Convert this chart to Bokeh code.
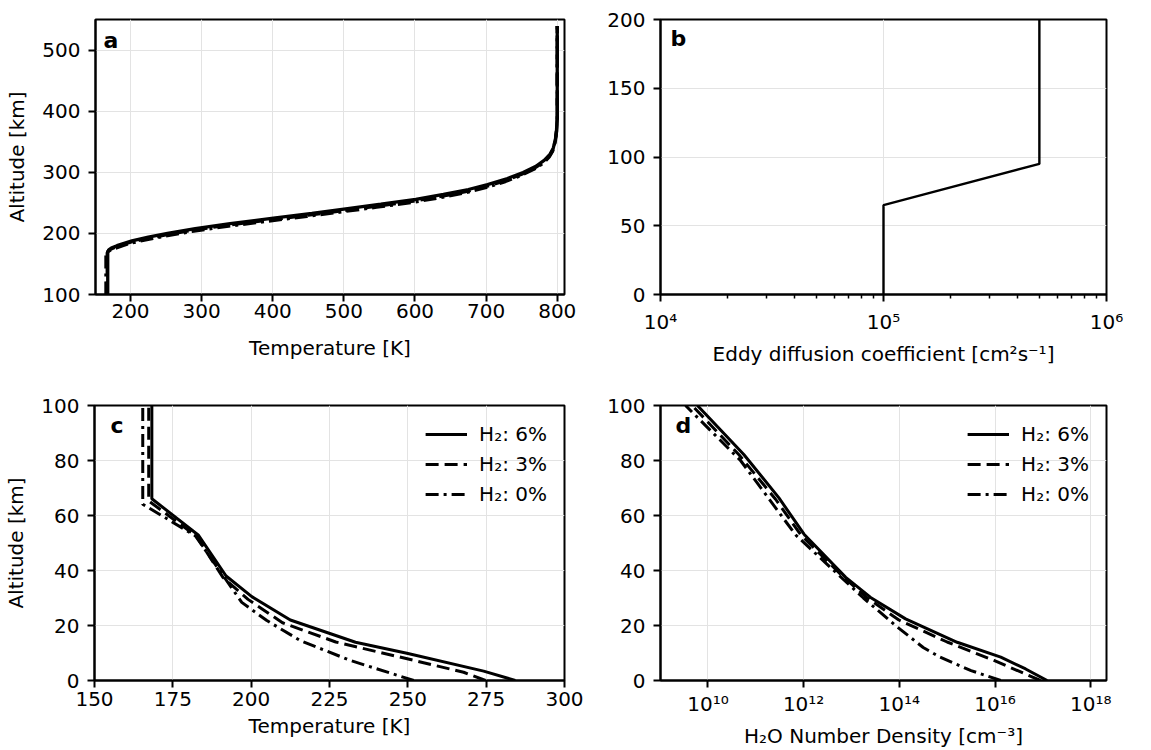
from bokeh.plotting import figure
from bokeh.layouts import column, row
from bokeh.models import Range1d, FixedTicker, Label, Legend, LegendItem, CustomJSTickFormatter
from bokeh.embed import file_html
from bokeh.resources import INLINE

# ---------------- data ----------------
# panel a: temperature profiles (altitude km, temperature K)
alt_a_6 = [100, 170, 173, 176, 180, 184, 188, 194, 200, 208, 216, 225, 233, 240, 248, 256, 264, 272, 280, 290, 300, 310, 320, 330, 340, 355, 370, 390, 420, 460, 500, 540]
temp_a_6 = [168, 168, 169.5, 173, 181, 191, 202, 225, 252, 291, 340, 401, 455, 500, 552, 601, 640, 675, 702, 730, 752, 770, 782, 790, 794.5, 797.5, 799, 800, 800, 800, 800, 800]
alt_a_3 = [100, 168, 171, 174, 178, 182, 186, 192, 198, 206, 214, 222, 230, 237, 245, 253, 261, 269, 277, 287, 297, 307, 317, 327, 337, 352, 368, 388, 420, 460, 500, 540]
temp_a_3 = [167.3, 167.3, 168.5, 172, 180, 190, 201, 224, 251, 290, 339, 394, 450, 496, 548, 598, 638, 673, 700, 728, 750, 768, 781, 789, 794, 797.5, 799, 800, 800, 800, 800, 800]
alt_a_0 = [100, 166, 169, 172, 176, 180, 184, 190, 196, 204, 212, 220, 228, 235, 243, 251, 259, 267, 275, 285, 295, 305, 315, 325, 335, 350, 366, 386, 420, 460, 500, 540]
temp_a_0 = [165.5, 165.5, 167, 170.5, 179, 189, 200, 223, 250, 289, 338, 392, 448, 494, 546, 597, 637, 672, 699, 727, 749, 767, 780, 788.5, 793.5, 797, 799, 800, 800, 800, 800, 800]

# panel b: eddy diffusion coefficient
alt_b = [0, 65, 95, 200]
kzz_b = [1e5, 1e5, 5e5, 5e5]

# panel c: lower-atmosphere temperature
alt_c_6 = [0, 3.4, 9.9, 13.9, 22, 30.5, 38, 52.8, 66.1, 100]
temp_c_6 = [284.3, 274.2, 249.7, 233.3, 212.5, 200.2, 192, 183.2, 168.3, 168.3]
alt_c_3 = [0, 3, 7.3, 14, 21, 29.5, 37.5, 52.5, 65.3, 100]
temp_c_3 = [274.8, 267.8, 252, 227, 210, 199, 191, 182.5, 167.3, 167.3]
alt_c_0 = [0, 7.3, 14.5, 21.8, 28.4, 40.5, 52.6, 64.1, 100]
temp_c_0 = [251.9, 231.6, 215.7, 205, 197, 189.6, 182.2, 165.4, 165.4]

# panel d: H2O number density
alt_d_6 = [0, 4.2, 8.5, 13.9, 22.4, 30.2, 37.5, 53.2, 66.5, 82.2, 100]
nh2o_d_6 = [1.23e17, 4.37e16, 1.32e16, 1.62e15, 1.35e14, 2.51e13, 7.59e12, 1.02e12, 3.02e11, 5.62e10, 6.03e9]
alt_d_3 = [0, 7.3, 14, 22, 30, 38, 53, 66, 82, 100]
nh2o_d_3 = [8.9e16, 9.5e15, 1.0e15, 9.8e13, 2.14e13, 6.46e12, 8.7e11, 2.57e11, 4.5e10, 4.68e9]
alt_d_0 = [0, 3.6, 8.5, 12, 20, 30, 40, 53, 66, 80, 100]
nh2o_d_0 = [1.32e16, 3.16e15, 7.08e14, 3.16e14, 8.3e13, 1.78e13, 4.27e12, 6.76e11, 1.9e11, 4.8e10, 3.4e9]

series_labels = ["H\u2082: 6%", "H\u2082: 3%", "H\u2082: 0%"]
panel_letters = ["a", "b", "c", "d"]

# ---------------- styling helpers ----------------
FONT = "DejaVu Sans"
FS = "20px"
GRID = "#e3e3e3"

log_fmt = CustomJSTickFormatter(code="""
const e = Math.round(Math.log10(tick));
const sup = {'0':'\u2070','1':'\u00b9','2':'\u00b2','3':'\u00b3','4':'\u2074','5':'\u2075','6':'\u2076','7':'\u2077','8':'\u2078','9':'\u2079','-':'\u207b'};
return '10' + String(e).split('').map(c => sup[c]).join('');
""")


def make_fig(w, h, left, right, top, bottom, xr, yr, xlog=False):
    p = figure(width=w, height=h, x_range=xr, y_range=yr,
               x_axis_type="log" if xlog else "linear",
               output_backend="svg", toolbar_location=None,
               min_border_left=left, min_border_right=right,
               min_border_top=top, min_border_bottom=bottom)
    p.outline_line_color = "black"
    p.outline_line_width = 2
    p.outline_line_alpha = 1
    p.background_fill_color = "white"
    p.border_fill_color = "white"
    for ax in p.axis:
        ax.axis_line_width = 2
        ax.axis_line_color = "black"
        ax.major_tick_line_width = 2
        ax.major_tick_line_color = "black"
        ax.major_tick_out = 7
        ax.major_tick_in = 0
        ax.minor_tick_line_color = None
        ax.major_label_text_font = FONT
        ax.major_label_text_font_size = FS
        ax.major_label_text_color = "black"
        ax.axis_label_text_font = FONT
        ax.axis_label_text_font_size = FS
        ax.axis_label_text_font_style = "normal"
        ax.axis_label_text_color = "black"
    p.grid.grid_line_color = GRID
    p.grid.grid_line_width = 1
    return p


def letter(p, txt, x, y):
    p.add_layout(Label(x=x, y=y, x_units="screen", y_units="screen", text=txt,
                       text_font=FONT, text_font_size="22px", text_font_style="bold",
                       text_baseline="middle", text_align="left", text_color="black"))


def add_legend(p, rends):
    items = [LegendItem(label=lab, renderers=[r]) for lab, r in zip(series_labels, rends)]
    lg = Legend(items=items, location="top_right")
    lg.border_line_alpha = 0
    lg.background_fill_alpha = 0
    lg.label_text_font = FONT
    lg.label_text_font_size = FS
    lg.label_text_color = "black"
    lg.glyph_width = 42
    lg.glyph_height = 20
    lg.label_standoff = 12
    lg.spacing = 6
    lg.padding = 5
    lg.margin = 12
    p.add_layout(lg)


dash = "13 6"
dashdot = "13 5 3 5"

# ---------------- panel a ----------------
pa = make_fig(598, 368, 95, 34, 19, 72, Range1d(150.8, 810.2), Range1d(100, 550.5))
pa.xaxis.ticker = FixedTicker(ticks=[200, 300, 400, 500, 600, 700, 800])
pa.yaxis.ticker = FixedTicker(ticks=[100, 200, 300, 400, 500])
pa.xaxis.axis_label = "Temperature [K]"
pa.yaxis.axis_label = "Altitude [km]"
pa.xaxis.major_label_standoff = 2
pa.xaxis.axis_label_standoff = 15
pa.yaxis.major_label_standoff = 8
pa.yaxis.axis_label_standoff = 10
pa.line(temp_a_6, alt_a_6, line_color="black", line_width=3.3)
pa.line(temp_a_3, alt_a_3, line_color="black", line_width=3.3, line_dash=dash)
pa.line(temp_a_0, alt_a_0, line_color="black", line_width=3.3, line_dash=dashdot)
letter(pa, panel_letters[0], 8, 254)

# ---------------- panel b ----------------
pb = make_fig(552, 368, 62, 44, 19, 72, Range1d(1e4, 1e6), Range1d(0, 200), xlog=True)
minor_b = [2e4, 3e4, 4e4, 5e4, 6e4, 7e4, 8e4, 9e4, 2e5, 3e5, 4e5, 5e5, 6e5, 7e5, 8e5, 9e5]
pb.xaxis.ticker = FixedTicker(ticks=[1e4, 1e5, 1e6], minor_ticks=minor_b)
pb.xaxis.formatter = log_fmt
pb.xaxis.minor_tick_line_color = "black"
pb.xaxis.minor_tick_line_width = 1.5
pb.xaxis.minor_tick_out = 4
pb.xaxis.minor_tick_in = 0
pb.yaxis.ticker = FixedTicker(ticks=[0, 50, 100, 150, 200])
pb.xaxis.axis_label = "Eddy diffusion coefficient [cm\u00b2s\u207b\u00b9]"
pb.xaxis.major_label_standoff = 8
pb.xaxis.axis_label_standoff = 5
pb.yaxis.major_label_standoff = 8
pb.line(kzz_b, alt_b, line_color="black", line_width=2.4)
letter(pb, panel_letters[1], 10, 256)

# ---------------- panel c ----------------
pc = make_fig(598, 382, 94, 34, 37, 69, Range1d(150, 300), Range1d(0, 100))
pc.xaxis.ticker = FixedTicker(ticks=[150, 175, 200, 225, 250, 275, 300])
pc.yaxis.ticker = FixedTicker(ticks=[0, 20, 40, 60, 80, 100])
pc.xaxis.axis_label = "Temperature [K]"
pc.yaxis.axis_label = "Altitude [km]"
pc.xaxis.major_label_standoff = 4
pc.xaxis.axis_label_standoff = 5
pc.yaxis.major_label_standoff = 8
pc.yaxis.axis_label_standoff = 10
rc6 = pc.line(temp_c_6, alt_c_6, line_color="black", line_width=3)
rc3 = pc.line(temp_c_3, alt_c_3, line_color="black", line_width=3, line_dash=dash)
rc0 = pc.line(temp_c_0, alt_c_0, line_color="black", line_width=3, line_dash=dashdot)
add_legend(pc, [rc6, rc3, rc0])
letter(pc, panel_letters[2], 16, 255)

# ---------------- panel d ----------------
pd = make_fig(552, 382, 62, 44, 37, 69, Range1d(1.02e9, 2.14e18), Range1d(0, 100), xlog=True)
pd.xaxis.ticker = FixedTicker(ticks=[1e10, 1e12, 1e14, 1e16, 1e18], minor_ticks=[])
pd.xaxis.formatter = log_fmt
pd.yaxis.ticker = FixedTicker(ticks=[0, 20, 40, 60, 80, 100])
pd.xaxis.axis_label = "H\u2082O Number Density [cm\u207b\u00b3]"
pd.xaxis.major_label_standoff = 4
pd.xaxis.axis_label_standoff = 5
pd.yaxis.major_label_standoff = 8
rd6 = pd.line(nh2o_d_6, alt_d_6, line_color="black", line_width=3)
rd3 = pd.line(nh2o_d_3, alt_d_3, line_color="black", line_width=3, line_dash=dash)
rd0 = pd.line(nh2o_d_0, alt_d_0, line_color="black", line_width=3, line_dash=dashdot)
add_legend(pd, [rd6, rd3, rd0])
letter(pd, panel_letters[3], 15, 255)

layout = column(row(pa, pb), row(pc, pd))
open("out.html", "w").write(file_html(layout, INLINE))
